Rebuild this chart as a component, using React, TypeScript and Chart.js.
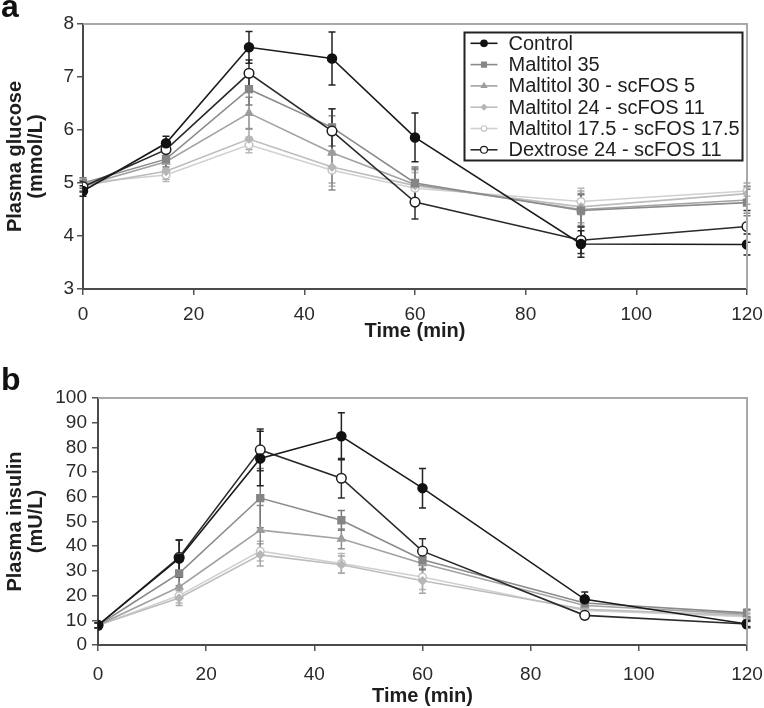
import React, { useEffect, useRef } from 'react';
import { Chart, registerables } from 'chart.js';

Chart.register(...registerables);

// ---------- data ----------
const timePoints = [0, 15, 30, 45, 60, 90, 120];
const seriesNames = [
  'Control',
  'Maltitol 35',
  'Maltitol 30 - scFOS 5',
  'Maltitol 24 - scFOS 11',
  'Maltitol 17.5 - scFOS 17.5',
  'Dextrose 24 - scFOS 11',
];

const glucoseControl = [4.85, 5.75, 7.56, 7.35, 5.86, 3.85, 3.84];
const glucoseMaltitol35 = [5.0, 5.45, 6.77, 6.05, 5.0, 4.48, 4.63];
const glucoseMaltitol30 = [4.95, 5.4, 6.32, 5.57, 4.97, 4.5, 4.68];
const glucoseMaltitol24 = [4.95, 5.22, 5.83, 5.3, 4.95, 4.55, 4.8];
const glucoseMaltitol175 = [5.0, 5.15, 5.72, 5.24, 4.9, 4.65, 4.85];
const glucoseDextrose = [4.93, 5.63, 7.07, 5.98, 4.64, 3.92, 4.18];

const glucoseErrControl = [0.1, 0.13, 0.3, 0.5, 0.46, 0.25, 0.2];
const glucoseErrMaltitol35 = [0.1, 0.15, 0.3, 0.35, 0.3, 0.3, 0.25];
const glucoseErrMaltitol30 = [0.1, 0.15, 0.3, 0.7, 0.3, 0.3, 0.25];
const glucoseErrMaltitol24 = [0.1, 0.15, 0.2, 0.3, 0.3, 0.3, 0.2];
const glucoseErrMaltitol175 = [0.1, 0.12, 0.15, 0.3, 0.3, 0.25, 0.1];
const glucoseErrDextrose = [0.1, 0.15, 0.25, 0.42, 0.32, 0.25, 0.3];

const insulinControl = [8, 35, 75.5, 84.5, 63.5, 18.5, 8.5];
const insulinMaltitol35 = [8, 29, 59.5, 50.5, 34.5, 17, 13];
const insulinMaltitol30 = [8, 23.5, 46.5, 43, 33, 16, 12.5];
const insulinMaltitol24 = [8, 19, 36.5, 32.5, 26, 14.5, 12];
const insulinMaltitol175 = [8, 20, 38, 33, 27.5, 14, 11.5];
const insulinDextrose = [8, 35.5, 79, 67.5, 38, 12, 8.5];

const insulinErrControl = [1, 7.5, 11, 9.5, 8, 3, 1.5];
const insulinErrMaltitol35 = [1, 5, 12, 4, 4, 2, 1.5];
const insulinErrMaltitol30 = [1, 4, 10, 4, 5, 2, 1.5];
const insulinErrMaltitol24 = [1, 3, 4.5, 3.5, 5, 2, 1];
const insulinErrMaltitol175 = [1, 3, 4, 4, 5, 2, 1];
const insulinErrDextrose = [1, 7, 8.5, 8, 5, 1.5, 1];

const glucoseAxis = { min: 3, max: 8, step: 1 };
const insulinAxis = { min: 0, max: 100, step: 10 };
const timeAxis = { min: 0, max: 120, step: 20 };

// ---------- styles ----------
const FONT = '"Liberation Sans", Arial, Helvetica, sans-serif';
const styles = [
  { line: '#1a1a1a', fill: '#111111', border: '#111111', shape: 'circle', r: 4.5, err: '#222222', order: 0 },
  { line: '#8a8a8a', fill: '#858585', border: '#858585', shape: 'rect', r: 4.8, err: '#7a7a7a', order: 2 },
  { line: '#a2a2a2', fill: '#9c9c9c', border: '#9c9c9c', shape: 'triangle', r: 4.2, err: '#8c8c8c', order: 3 },
  { line: '#bdbdbd', fill: '#b6b6b6', border: '#b6b6b6', shape: 'rectRot', r: 3.8, err: '#a8a8a8', order: 4 },
  { line: '#d0d0d0', fill: '#ffffff', border: '#c4c4c4', shape: 'circle', r: 3.8, err: '#b8b8b8', order: 5 },
  { line: '#2a2a2a', fill: '#ffffff', border: '#1e1e1e', shape: 'circle', r: 4.8, err: '#303030', order: 1 },
];

function buildDatasets(values: number[][], errors: number[][]) {
  return values.map((vals, i) => {
    const s = styles[i];
    return {
      label: seriesNames[i],
      data: vals.map((v, j) => ({ x: timePoints[j], y: v })),
      errors: errors[i],
      errColor: s.err,
      borderColor: s.line,
      backgroundColor: s.fill,
      pointBackgroundColor: s.fill,
      pointBorderColor: s.border,
      pointBorderWidth: 1.5,
      pointStyle: s.shape,
      pointRadius: s.r,
      borderWidth: 1.6,
      order: s.order,
      tension: 0,
    } as any;
  });
}

const errorBarPlugin = {
  id: 'errorBars',
  beforeDatasetsDraw(chart: any) {
    const { ctx } = chart;
    const xs = chart.scales.x;
    const ys = chart.scales.y;
    const ds = chart.data.datasets as any[];
    const idx = ds.map((_, i) => i).sort((a, b) => ds[b].order - ds[a].order);
    ctx.save();
    ctx.lineWidth = 1.5;
    for (const i of idx) {
      const d = ds[i];
      ctx.strokeStyle = d.errColor;
      d.data.forEach((p: any, j: number) => {
        const e = d.errors[j];
        const x = xs.getPixelForValue(p.x);
        const y1 = ys.getPixelForValue(p.y + e);
        const y2 = ys.getPixelForValue(p.y - e);
        ctx.beginPath();
        ctx.moveTo(x, y1);
        ctx.lineTo(x, y2);
        ctx.moveTo(x - 3.5, y1);
        ctx.lineTo(x + 3.5, y1);
        ctx.moveTo(x - 3.5, y2);
        ctx.lineTo(x + 3.5, y2);
        ctx.stroke();
      });
    }
    ctx.restore();
  },
};

const framePlugin = {
  id: 'frame',
  afterDatasetsDraw(chart: any) {
    const { ctx, chartArea } = chart;
    ctx.save();
    ctx.strokeStyle = '#a8a8a8';
    ctx.lineWidth = 2;
    ctx.beginPath();
    ctx.moveTo(chartArea.left, chartArea.top);
    ctx.lineTo(chartArea.right, chartArea.top);
    ctx.lineTo(chartArea.right, chartArea.bottom);
    ctx.stroke();
    ctx.restore();
  },
};

function drawMarker(ctx: CanvasRenderingContext2D, shape: string, x: number, y: number, r: number) {
  ctx.beginPath();
  if (shape === 'circle') {
    ctx.arc(x, y, r, 0, Math.PI * 2);
  } else if (shape === 'rect') {
    const s = r * Math.SQRT1_2;
    ctx.rect(x - s, y - s, 2 * s, 2 * s);
  } else if (shape === 'triangle') {
    ctx.moveTo(x, y - r);
    ctx.lineTo(x + r * 0.866, y + r * 0.5);
    ctx.lineTo(x - r * 0.866, y + r * 0.5);
    ctx.closePath();
  } else {
    ctx.moveTo(x, y - r);
    ctx.lineTo(x + r, y);
    ctx.lineTo(x, y + r);
    ctx.lineTo(x - r, y);
    ctx.closePath();
  }
  ctx.fill();
  ctx.stroke();
}

const legendPlugin = {
  id: 'boxLegend',
  afterDatasetsDraw(chart: any) {
    const { ctx, chartArea } = chart;
    const right = chartArea.right - 4.5;
    const width = 278;
    const left = right - width;
    const top = chartArea.top + 8.5;
    const height = 128;
    ctx.save();
    ctx.fillStyle = '#ffffff';
    ctx.fillRect(left, top, width, height);
    ctx.strokeStyle = '#222222';
    ctx.lineWidth = 2;
    ctx.strokeRect(left, top, width, height);
    ctx.font = `20px ${FONT}`;
    ctx.textBaseline = 'middle';
    ctx.textAlign = 'left';
    chart.data.datasets.forEach((d: any, i: number) => {
      const s = styles[i];
      const y = top + 10.8 + i * 21.3;
      ctx.strokeStyle = s.line;
      ctx.lineWidth = 1.6;
      ctx.beginPath();
      ctx.moveTo(left + 6, y);
      ctx.lineTo(left + 33, y);
      ctx.stroke();
      ctx.fillStyle = s.fill;
      ctx.strokeStyle = s.border;
      ctx.lineWidth = 1.2;
      drawMarker(ctx, s.shape, left + 19.5, y, s.r * 0.72);
      ctx.fillStyle = '#1e1e1e';
      ctx.fillText(d.label, left + 44, y + 1);
    });
    ctx.restore();
  },
};

function makeOptions(cfg: {
  yAxis: { min: number; max: number; step: number };
  yTitle: string[];
  yWidth: number;
  yPad: number;
  xHeight: number;
  xTickPad: number;
  xTitlePadBottom: number;
  top: number;
}) {
  return {
    responsive: false,
    animation: false,
    layout: { padding: { top: cfg.top, right: 17, left: 0, bottom: 0 } },
    plugins: { legend: { display: false }, tooltip: { enabled: false } },
    scales: {
      x: {
        type: 'linear',
        min: timeAxis.min,
        max: timeAxis.max,
        ticks: {
          stepSize: timeAxis.step,
          autoSkip: false,
          color: '#2a2a2a',
          font: { family: FONT, size: 19 },
          padding: cfg.xTickPad,
          maxRotation: 0,
        },
        grid: { display: true, drawOnChartArea: false, drawTicks: true, tickLength: 6, color: '#555555', lineWidth: 1.5 },
        border: { display: true, color: '#4a4a4a', width: 2 },
        title: {
          display: true,
          text: 'Time (min)',
          color: '#1e1e1e',
          font: { family: FONT, size: 20, weight: 'bold', lineHeight: 1.05 },
          padding: { top: 0, bottom: cfg.xTitlePadBottom },
        },
        afterFit: (scale: any) => {
          scale.height = cfg.xHeight;
          scale.paddingLeft = 0;
          scale.paddingRight = 0;
        },
      },
      y: {
        type: 'linear',
        min: cfg.yAxis.min,
        max: cfg.yAxis.max,
        ticks: {
          stepSize: cfg.yAxis.step,
          autoSkip: false,
          color: '#2a2a2a',
          font: { family: FONT, size: 19, lineHeight: 1 },
          padding: cfg.yPad,
        },
        grid: { display: true, drawOnChartArea: false, drawTicks: true, tickLength: 6, color: '#555555', lineWidth: 1.5 },
        border: { display: true, color: '#4a4a4a', width: 2 },
        title: {
          display: true,
          text: cfg.yTitle,
          color: '#1e1e1e',
          font: { family: FONT, size: 20, weight: 'bold', lineHeight: 1.05 },
          padding: { top: 5, bottom: 0 },
        },
        afterFit: (scale: any) => {
          scale.width = cfg.yWidth;
          scale.paddingTop = 0;
          scale.paddingBottom = 0;
        },
      },
    },
  } as any;
}

function Panel(props: {
  height: number;
  values: number[][];
  errors: number[][];
  options: any;
  legend: boolean;
}) {
  const ref = useRef<HTMLCanvasElement | null>(null);
  useEffect(() => {
    if (!ref.current) return;
    const plugins: any[] = [errorBarPlugin, framePlugin];
    if (props.legend) plugins.push(legendPlugin);
    const chart = new Chart(ref.current, {
      type: 'line',
      data: { datasets: buildDatasets(props.values, props.errors) },
      options: props.options,
      plugins,
    });
    return () => chart.destroy();
  }, []);
  return <canvas ref={ref} width={764} height={props.height} style={{ display: 'block', width: 764, height: props.height }} />;
}

const letterStyle: React.CSSProperties = {
  position: 'absolute',
  left: 1,
  fontFamily: FONT,
  fontWeight: 'bold',
  fontSize: 32,
  lineHeight: 1,
  color: '#111',
};

export default function App() {
  const glucoseValues = [glucoseControl, glucoseMaltitol35, glucoseMaltitol30, glucoseMaltitol24, glucoseMaltitol175, glucoseDextrose];
  const glucoseErrors = [glucoseErrControl, glucoseErrMaltitol35, glucoseErrMaltitol30, glucoseErrMaltitol24, glucoseErrMaltitol175, glucoseErrDextrose];
  const insulinValues = [insulinControl, insulinMaltitol35, insulinMaltitol30, insulinMaltitol24, insulinMaltitol175, insulinDextrose];
  const insulinErrors = [insulinErrControl, insulinErrMaltitol35, insulinErrMaltitol30, insulinErrMaltitol24, insulinErrMaltitol175, insulinErrDextrose];

  const optsA = makeOptions({
    yAxis: glucoseAxis,
    yTitle: ['Plasma glucose', '(mmol/L)'],
    yWidth: 83,
    yPad: 3,
    xHeight: 61,
    xTickPad: 8,
    xTitlePadBottom: 8.5,
    top: 24,
  });
  const optsB = makeOptions({
    yAxis: insulinAxis,
    yTitle: ['Plasma insulin', '(mU/L)'],
    yWidth: 98,
    yPad: 5,
    xHeight: 63,
    xTickPad: 12,
    xTitlePadBottom: 1.5,
    top: 48,
  });

  return (
    <div style={{ position: 'absolute', left: 0, top: 0, width: 764, height: 708, background: '#fff', overflow: 'hidden' }}>
      <div style={{ position: 'absolute', left: 0, top: 0 }}>
        <Panel height={350} values={glucoseValues} errors={glucoseErrors} options={optsA} legend={true} />
      </div>
      <div style={{ position: 'absolute', left: 0, top: 350 }}>
        <Panel height={358} values={insulinValues} errors={insulinErrors} options={optsB} legend={false} />
      </div>
      <div style={{ ...letterStyle, top: -10 }}>a</div>
      <div style={{ ...letterStyle, top: 363 }}>b</div>
    </div>
  );
}
